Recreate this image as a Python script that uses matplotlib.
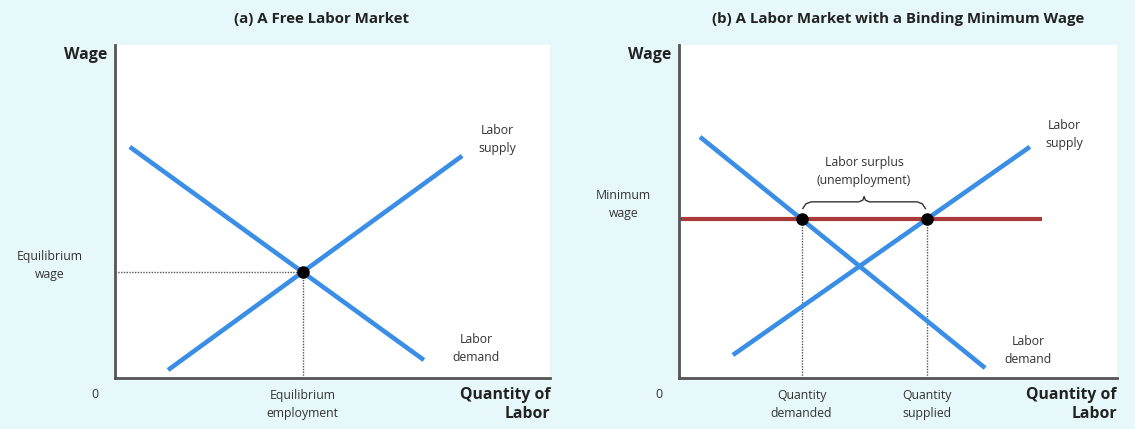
import numpy as np
import matplotlib.pyplot as plt

# curve endpoints in chart units (0-100 on both axes)
demand_a_x = [3.4, 71.0]
demand_a_y = [69.4, 5.4]
supply_a_x = [12.2, 79.8]
supply_a_y = [2.4, 66.7]

demand_b_x = [4.8, 69.9]
demand_b_y = [72.4, 3.0]
supply_b_x = [12.3, 80.1]
supply_b_y = [6.9, 69.4]
min_wage = 47.7
min_wage_end = 82.9

blue = "#3a8ee6"
red = "#a83a3a"
bg = "#e6f8fa"
txt = "#333333"
fs = 8.8
plt.rcParams["font.family"] = ["Open Sans", "DejaVu Sans"]


def line_fn(xs, ys):
    m = (ys[1] - ys[0]) / (xs[1] - xs[0])
    return m, ys[0] - m * xs[0]


def x_at(xs, ys, y):
    m, b = line_fn(xs, ys)
    return (y - b) / m


def intersect(x1, y1, x2, y2):
    m1, b1 = line_fn(x1, y1)
    m2, b2 = line_fn(x2, y2)
    x = (b2 - b1) / (m1 - m2)
    return x, m1 * x + b1


def setup(ax):
    ax.set_xlim(0, 100)
    ax.set_ylim(0, 100)
    ax.set_facecolor("white")
    for s in ["top", "right"]:
        ax.spines[s].set_visible(False)
    for s in ["left", "bottom"]:
        ax.spines[s].set_color("#555555")
        ax.spines[s].set_linewidth(2)
    ax.set_xticks([])
    ax.set_yticks([])
    ax.text(-1.8, 97, "Wage", ha="right", va="center", fontsize=11.5,
            fontweight="bold", color="#222222")
    ax.text(-3.8, -5.1, "0", ha="right", va="center", fontsize=9, color=txt)
    ax.text(100, -8.1, "Quantity of\nLabor", ha="right", va="center", fontsize=11.3,
            fontweight="bold", color="#222222", linespacing=1.25)


fig = plt.figure(figsize=(11.35, 4.29), dpi=100, facecolor=bg)
ax1 = fig.add_axes([115 / 1135, 51 / 429, 435 / 1135, 333 / 429])
ax2 = fig.add_axes([679 / 1135, 51 / 429, 438 / 1135, 333 / 429])

# (a) free market
setup(ax1)
ex, ey = intersect(demand_a_x, demand_a_y, supply_a_x, supply_a_y)
ax1.plot([0, ex], [ey, ey], ls=(0, (1, 1)), color="#555555", lw=1, clip_on=False)
ax1.plot([ex, ex], [0, ey], ls=(0, (1, 1)), color="#555555", lw=1, clip_on=False)
ax1.plot(demand_a_x, demand_a_y, color=blue, lw=3.3, solid_capstyle="butt")
ax1.plot(supply_a_x, supply_a_y, color=blue, lw=3.3, solid_capstyle="butt")
ax1.plot(ex, ey, "o", color="black", ms=8, zorder=5)
ax1.text(87.8, 71.5, "Labor\nsupply", ha="center", va="center", fontsize=fs,
         color=txt, linespacing=1.5)
ax1.text(83.0, 9.0, "Labor\ndemand", ha="center", va="center", fontsize=fs,
         color=txt, linespacing=1.5)
ax1.text(-15, ey + 2, "Equilibrium\nwage", ha="center", va="center", fontsize=fs,
         color=txt, linespacing=1.5)
ax1.text(ex, -8.1, "Equilibrium\nemployment", ha="center", va="center",
         fontsize=fs, color=txt, linespacing=1.5)
ax1.set_title("(a) A Free Labor Market", fontsize=10.8, fontweight="bold",
              color="#222222", pad=16, x=0.475)

# (b) binding minimum wage
setup(ax2)
qd = x_at(demand_b_x, demand_b_y, min_wage)
qs = x_at(supply_b_x, supply_b_y, min_wage)
for q in [qd, qs]:
    ax2.plot([q, q], [0, min_wage], ls=(0, (1, 1)), color="#555555", lw=1)
ax2.plot(demand_b_x, demand_b_y, color=blue, lw=3.3, solid_capstyle="butt")
ax2.plot(supply_b_x, supply_b_y, color=blue, lw=3.3, solid_capstyle="butt")
ax2.plot([0, min_wage_end], [min_wage, min_wage], color=red, lw=3,
         solid_capstyle="butt", clip_on=False)
ax2.plot([qd, qs], [min_wage, min_wage], "o", color="black", ms=8, zorder=5)

# brace over the surplus
mid = (qd + qs) / 2
b0, b1, b2 = min_wage + 3.2, min_wage + 5.2, min_wage + 6.8
bx = [qd + 0.3, qd + 1.0, qd + 2.2, mid - 1.2, mid - 0.3, mid, mid + 0.3,
      mid + 1.2, qs - 2.2, qs - 1.0, qs - 0.3]
by = [b0, b1 - 0.6, b1, b1, b1 + 0.5, b2, b1 + 0.5, b1, b1, b1 - 0.6, b0]
ax2.plot(bx, by, color="#333333", lw=1)

ax2.text(mid, 62, "Labor surplus\n(unemployment)", ha="center", va="center",
         fontsize=fs, color=txt, linespacing=1.5)
ax2.text(87.9, 73, "Labor\nsupply", ha="center", va="center", fontsize=fs,
         color=txt, linespacing=1.5)
ax2.text(79.7, 8.4, "Labor\ndemand", ha="center", va="center", fontsize=fs,
         color=txt, linespacing=1.5)
ax2.text(-12.6, 52, "Minimum\nwage", ha="center", va="center", fontsize=fs,
         color=txt, linespacing=1.5)
ax2.text(qd, -8.1, "Quantity\ndemanded", ha="center", va="center", fontsize=fs,
         color=txt, linespacing=1.5)
ax2.text(qs, -8.1, "Quantity\nsupplied", ha="center", va="center", fontsize=fs,
         color=txt, linespacing=1.5)
ax2.set_title("(b) A Labor Market with a Binding Minimum Wage", fontsize=10.8,
              fontweight="bold", color="#222222", pad=16, x=0.5)

fig.savefig("out.png", dpi=100, facecolor=bg)
